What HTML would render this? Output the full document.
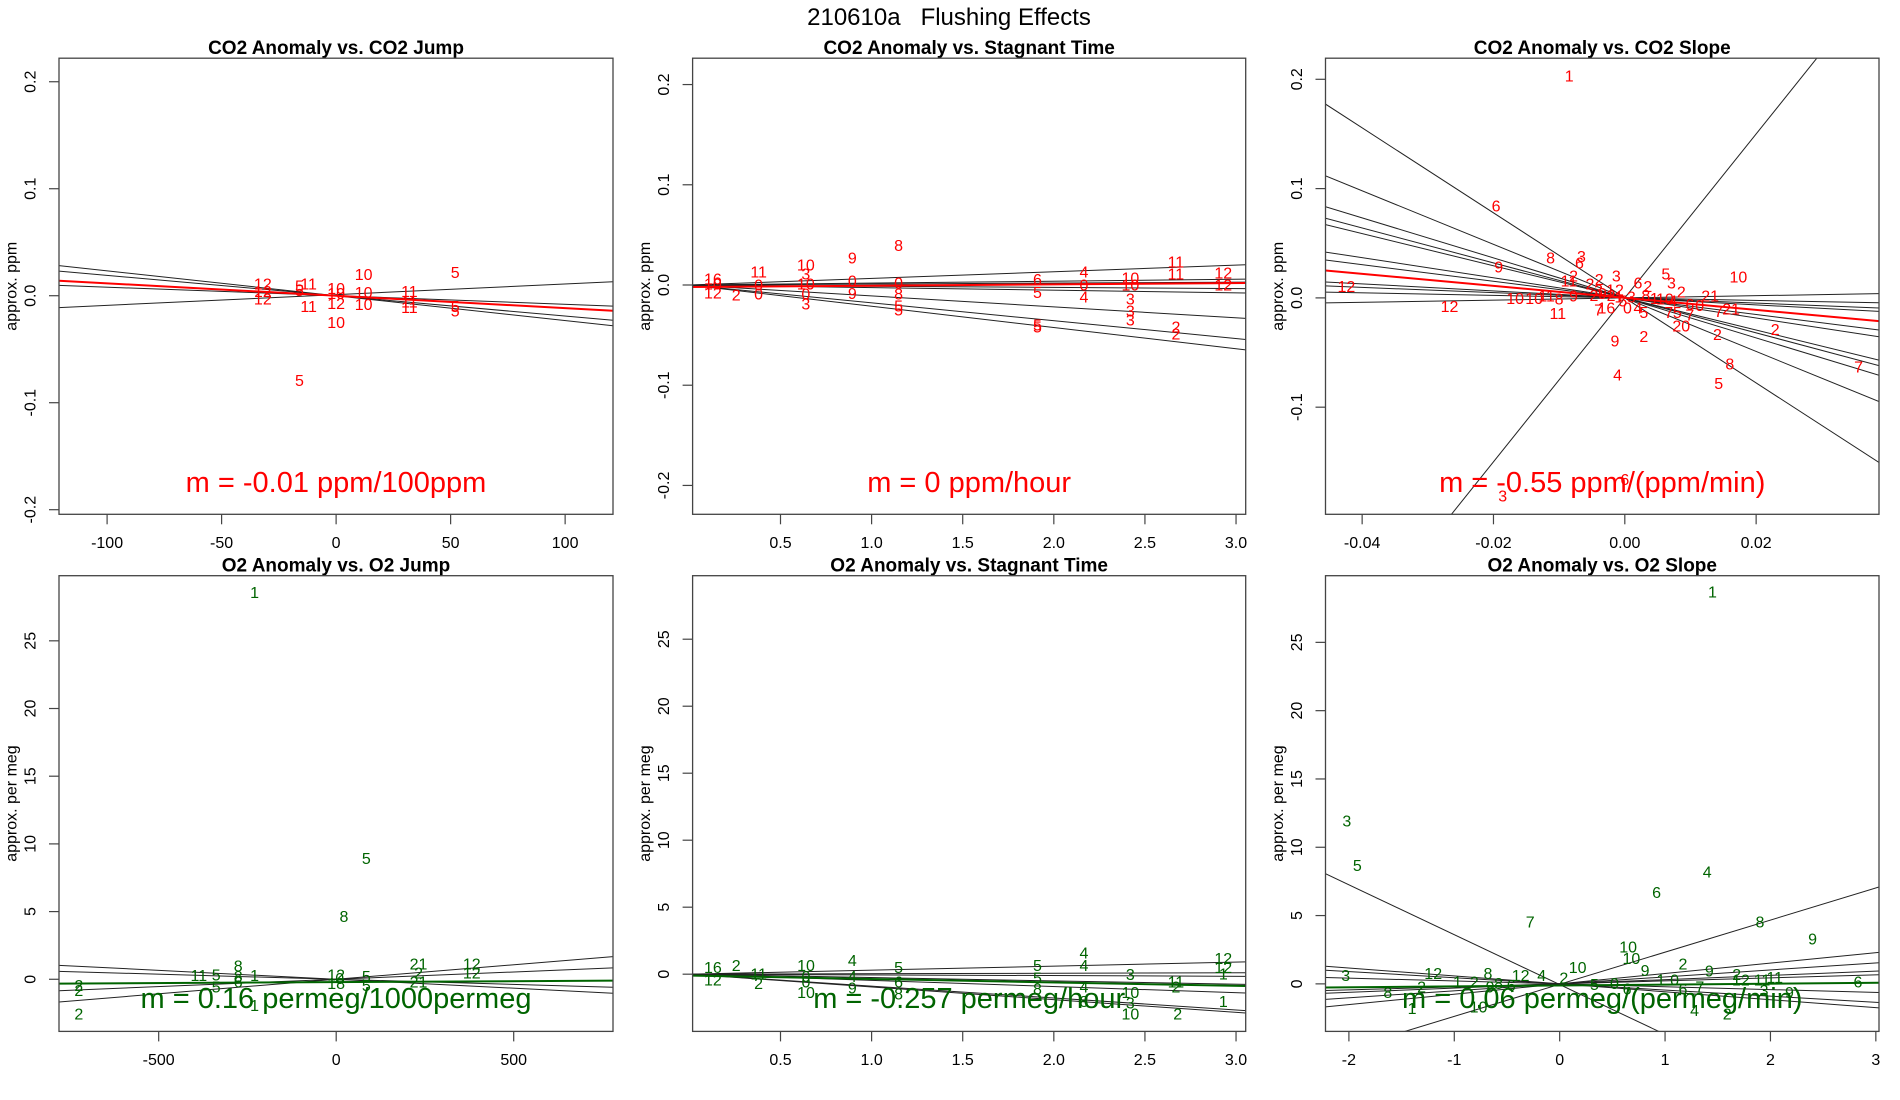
<!DOCTYPE html>
<html><head><meta charset="utf-8"><title>210610a Flushing Effects</title>
<style>
html,body{margin:0;padding:0;background:#fff;}
svg{display:block;font-family:"Liberation Sans",Arial,sans-serif;}
</style></head>
<body>
<svg id="chart" width="1900" height="1100" viewBox="0 0 1900 1100" xmlns="http://www.w3.org/2000/svg">
<rect x="0" y="0" width="1900" height="1100" fill="#fff"/>
<text x="949" y="25" font-size="24" text-anchor="middle" fill="#000" xml:space="preserve">210610a   Flushing Effects</text>
</svg>
<script>
// ---------- Panel 1: CO2 Anomaly vs. CO2 Jump ----------
const p1Labels = ["12","12","12","5","5","5","11","11","10","12","10","10","10","10","10","11","11","11","5","5","5"];
const p1X = [-32,-32,-32,-16,-16,-16,-12,-12,0,0,0,0,12,12,12,32,32,32,52,52,52];
const p1Y = [0.010,0.003,-0.004,0.008,0.004,-0.080,0.010,-0.011,0.006,-0.008,-0.026,0.001,0.019,0.002,-0.009,0.003,-0.007,-0.012,0.021,-0.011,-0.015];
const p1LineSlopes = [-0.000232,-0.00019,-0.00008,0.0001];
const p1LineIntercepts = [0,0,0,0.001];
const p1FitSlope = -0.000116;
const p1FitIntercept = 0;
const p1XTicks = [-100,-50,0,50,100];
const p1XTickLabels = ["-100","-50","0","50","100"];
const p1YTicks = [-0.2,-0.1,0,0.1,0.2];
const p1YTickLabels = ["-0.2","-0.1","0.0","0.1","0.2"];

// ---------- Panel 2: CO2 Anomaly vs. Stagnant Time ----------
const p2Labels = ["16","12","10","2","11","0","0","10","3","10","0","3","9","0","9","8","0","8","5","5","6","5","5","5","4","0","4","10","10","3","3","3","11","11","2","2","12","12"];
const p2X = [0.129,0.129,0.129,0.257,0.38,0.38,0.38,0.639,0.639,0.639,0.639,0.639,0.894,0.894,0.894,1.148,1.148,1.148,1.148,1.148,1.91,1.91,1.91,1.91,2.165,2.165,2.165,2.42,2.42,2.42,2.42,2.42,2.67,2.67,2.67,2.67,2.93,2.93];
const p2Y = [0.005,-0.009,0.0,-0.011,0.012,-0.001,-0.010,0.019,0.010,0.0,-0.010,-0.020,0.026,0.003,-0.0096,0.0385,0.001,-0.010,-0.022,-0.026,0.0046,-0.0086,-0.041,-0.043,0.012,-0.001,-0.013,0.006,-0.001,-0.015,-0.027,-0.036,0.022,0.010,-0.043,-0.050,0.011,-0.001];
const p2LineSlopes = [0.0066,0.0019,0.00094,-0.0012,-0.0026,-0.0109,-0.0178,-0.0212];
const p2LineIntercepts = [0,0,0,0,0,0,0,0];
const p2FitSlope = 0.0013;
const p2FitIntercept = -0.002;
const p2XTicks = [0.5,1.0,1.5,2.0,2.5,3.0];
const p2XTickLabels = ["0.5","1.0","1.5","2.0","2.5","3.0"];
const p2YTicks = [-0.2,-0.1,0,0.1,0.2];
const p2YTickLabels = ["-0.2","-0.1","0.0","0.1","0.2"];

// ---------- Panel 3: CO2 Anomaly vs. CO2 Slope ----------
const p3Labels = ["1","6","8","3","6","9","12","12","10","5","3","3","6","2","2","2","11","2","10","10","11","8","9","11","7","16","0","4","5","7","5","20","7","7","21","21","2","6","0","2","2","2","9","4","8","5","7","3","6","9","2","1","5","3","8","1","10","4","12","2","3"];
const p3X = [-0.00846,-0.0196,-0.0113,-0.0066,-0.0069,-0.0192,-0.0424,-0.0267,0.0173,0.00625,0.0071,-0.0013,0.002,0.0035,-0.0039,-0.0053,-0.0085,-0.0078,-0.0167,-0.0138,-0.0119,-0.010,-0.0078,-0.0102,-0.004,-0.0028,0.0004,0.002,0.0029,0.0067,0.008,0.0086,0.0099,0.0143,0.0162,0.013,0.0086,0.0099,0.0114,0.0229,0.0141,0.0029,-0.0015,-0.0011,0.016,0.0143,0.0356,-0.0186,0.0,-0.0034,-0.0021,-0.0009,-0.0003,0.001,0.0032,0.0045,0.0061,0.0073,-0.0015,-0.0047,-0.004];
const p3Y = [0.202,0.083,0.0356,0.037,0.031,0.0275,0.0095,-0.009,0.018,0.021,0.0127,0.019,0.0127,0.0095,0.016,0.012,0.0144,0.019,-0.0013,-0.0013,0.0007,-0.002,0.0007,-0.015,-0.0118,-0.010,-0.010,-0.010,-0.0144,-0.0144,-0.0144,-0.0265,-0.0167,-0.0134,-0.011,0.0007,0.0046,-0.0069,-0.0078,-0.0297,-0.0346,-0.0363,-0.0405,-0.0716,-0.0614,-0.0794,-0.064,-0.182,-0.167,0.0029,0.0013,-0.0003,-0.0036,-0.0003,0.0013,-0.0013,-0.002,-0.0036,0.0062,0.0013,0.0062];
const p3LineSlopes = [7.5,-3.89,-2.45,-1.83,-1.60,-1.47,-0.92,-0.76,-0.32,-0.24,-0.116,0.101];
const p3LineIntercepts = [0,0,0,0,0,0,0,0,0,0,0,0];
const p3FitSlope = -0.55;
const p3FitIntercept = 0;
const p3XTicks = [-0.04,-0.02,0,0.02];
const p3XTickLabels = ["-0.04","-0.02","0.00","0.02"];
const p3YTicks = [-0.1,0,0.1,0.2];
const p3YTickLabels = ["-0.1","0.0","0.1","0.2"];

// ---------- Panel 4: O2 Anomaly vs. O2 Jump ----------
const p4Labels = ["1","5","8","2","2","2","11","5","5","8","8","6","1","1","12","18","0","5","5","21","2","21","12","12"];
const p4X = [-230,85,22,-725,-725,-725,-387,-338,-338,-276,-276,-276,-230,-230,0,0,10,85,85,232,232,232,382,382];
const p4Y = [28.5,8.83,4.56,-2.64,-0.53,-0.92,0.2,0.26,-0.66,0.92,0.13,-0.26,0.2,-2.0,0.26,-0.4,0,0.13,-0.53,1.05,0.4,-0.26,1.05,0.4];
const p4LineSlopes = [-0.00132,-0.00075,0.00108,0.00215];
const p4LineIntercepts = [0,0,0,0];
const p4FitSlope = 0.00014;
const p4FitIntercept = -0.21;
const p4XTicks = [-500,0,500];
const p4XTickLabels = ["-500","0","500"];
const p4YTicks = [0,5,10,15,20,25];
const p4YTickLabels = ["0","5","10","15","20","25"];

// ---------- Panel 5: O2 Anomaly vs. Stagnant Time ----------
const p5Labels = ["16","12","2","2","11","10","0","10","0","4","4","9","5","6","8","5","5","8","4","4","4","8","3","10","3","10","11","2","2","12","12","1","1"];
const p5X = [0.129,0.129,0.257,0.38,0.38,0.64,0.64,0.64,0.64,0.894,0.894,0.894,1.148,1.148,1.148,1.91,1.91,1.91,2.165,2.165,2.165,2.165,2.42,2.42,2.42,2.42,2.67,2.67,2.68,2.93,2.93,2.93,2.93];
const p5Y = [0.43,-0.5,0.56,-0.77,-0.05,0.56,-0.24,-1.44,-0.64,0.96,-0.24,-1.12,0.43,-0.64,-1.57,0.56,-0.37,-1.17,1.49,0.56,-1.04,-2.1,-0.1,-1.44,-2.24,-3.04,-0.64,-1.04,-3.04,1.09,0.43,-0.05,-2.1];
const p5LineSlopes = [0.30,0.035,-0.052,-0.25,-0.46,-0.89,-0.95];
const p5LineIntercepts = [0,0,0,0,0,0,0];
const p5FitSlope = -0.257;
const p5FitIntercept = -0.1;
const p5XTicks = [0.5,1.0,1.5,2.0,2.5,3.0];
const p5XTickLabels = ["0.5","1.0","1.5","2.0","2.5","3.0"];
const p5YTicks = [0,5,10,15,20,25];
const p5YTickLabels = ["0","5","10","15","20","25"];

// ---------- Panel 6: O2 Anomaly vs. O2 Slope ----------
const p6Labels = ["1","3","5","4","6","7","8","9","10","10","10","2","3","12","8","8","2","1","10","12","4","2","9","9","2","12","11","11","6","4","2","9","7","0","5","6","1","0","1","2","8","6","9","6","3"];
const p6X = [1.45,-2.02,-1.92,1.40,0.92,-0.28,1.90,2.40,0.65,0.68,0.17,1.17,-2.03,-1.2,-0.68,-1.63,-1.31,-1.40,-0.77,-0.37,-0.17,0.04,0.81,1.42,1.68,1.72,2.04,1.92,2.83,1.28,1.59,2.18,1.33,0.52,0.33,0.64,0.96,1.09,-0.97,-0.81,-0.58,-0.46,-0.66,1.17,1.94];
const p6Y = [28.6,11.85,8.58,8.13,6.62,4.45,4.45,3.22,2.64,1.78,1.12,1.39,0.55,0.68,0.68,-0.7,-0.31,-1.88,-1.75,0.55,0.55,0.34,0.92,0.86,0.6,0.21,0.39,0.21,0.08,-2.01,-2.28,-0.7,-0.31,-0.05,-0.13,-0.44,0.21,0.21,0.08,0.08,-0.05,-0.18,-0.31,-0.44,-0.57];
const p6LineSlopes = [-3.65,2.35,0.76,0.51,0.31,0.22,-0.58,-0.45,-0.21];
const p6LineIntercepts = [-0.05,-0.03,0,0,0,0,0,0,0];
const p6FitSlope = 0.065;
const p6FitIntercept = -0.12;
const p6XTicks = [-2,-1,0,1,2,3];
const p6XTickLabels = ["-2","-1","0","1","2","3"];
const p6YTicks = [0,5,10,15,20,25];
const p6YTickLabels = ["0","5","10","15","20","25"];

const NS = "http://www.w3.org/2000/svg";
const svg = document.getElementById("chart");

function mk(tag, parent) {
  const e = document.createElementNS(NS, tag);
  parent.appendChild(e);
  return e;
}

function drawPanel(cfg) {
  const g = mk("g", svg);
  
  
  const L = cfg.box[0], T = cfg.box[1], R = cfg.box[2], B = cfg.box[3];
  const sx = v => L + (v - cfg.xlim[0]) / (cfg.xlim[1] - cfg.xlim[0]) * (R - L);
  const sy = v => B - (v - cfg.ylim[0]) / (cfg.ylim[1] - cfg.ylim[0]) * (B - T);

  const cp = mk("clipPath", g);
  cp.setAttribute("id", cfg.id + "-clip");
  const cr = mk("rect", cp);
  cr.setAttribute("x", L); cr.setAttribute("y", T);
  cr.setAttribute("width", R - L); cr.setAttribute("height", B - T);

  const title = mk("text", g);
  
  
  title.setAttribute("x", (L + R) / 2); title.setAttribute("y", T - 4);
  title.setAttribute("font-size", "19"); title.setAttribute("font-weight", "bold");
  title.setAttribute("text-anchor", "middle");
  title.textContent = cfg.title;

  const plot = mk("g", g);
  
  
  plot.setAttribute("clip-path", "url(#" + cfg.id + "-clip)");

  for (let i = 0; i < cfg.slopes.length; i++) {
    const ln = mk("line", plot);
    
    
    const x0 = cfg.xlim[0], x1 = cfg.xlim[1];
    ln.setAttribute("x1", sx(x0)); ln.setAttribute("y1", sy(cfg.intercepts[i] + cfg.slopes[i] * x0));
    ln.setAttribute("x2", sx(x1)); ln.setAttribute("y2", sy(cfg.intercepts[i] + cfg.slopes[i] * x1));
    ln.setAttribute("stroke", "#222"); ln.setAttribute("stroke-width", "1");
  }
  const fl = mk("line", plot);
  
  
  fl.setAttribute("x1", sx(cfg.xlim[0])); fl.setAttribute("y1", sy(cfg.fitI + cfg.fitS * cfg.xlim[0]));
  fl.setAttribute("x2", sx(cfg.xlim[1])); fl.setAttribute("y2", sy(cfg.fitI + cfg.fitS * cfg.xlim[1]));
  fl.setAttribute("stroke", cfg.color); fl.setAttribute("stroke-width", "2");

  for (let i = 0; i < cfg.labels.length; i++) {
    const t = mk("text", plot);
    
    
    t.setAttribute("x", sx(cfg.xs[i])); t.setAttribute("y", sy(cfg.ys[i]));
    t.setAttribute("font-size", "16"); t.setAttribute("fill", cfg.color);
    t.setAttribute("text-anchor", "middle"); t.setAttribute("dominant-baseline", "central");
    t.textContent = cfg.labels[i];
  }

  const ann = mk("text", g);
  
  
  ann.setAttribute("x", (L + R) / 2); ann.setAttribute("y", cfg.annY);
  ann.setAttribute("font-size", "29"); ann.setAttribute("fill", cfg.color);
  ann.setAttribute("text-anchor", "middle");
  ann.textContent = cfg.ann;

  const box = mk("rect", g);
  
  
  box.setAttribute("x", L); box.setAttribute("y", T);
  box.setAttribute("width", R - L); box.setAttribute("height", B - T);
  box.setAttribute("fill", "none"); box.setAttribute("stroke", "#444"); box.setAttribute("stroke-width", "1.3");

  const xa = mk("g", g);
  
  
  for (let i = 0; i < cfg.xticks.length; i++) {
    const px = sx(cfg.xticks[i]);
    const tk = mk("line", xa);
    
    
    tk.setAttribute("x1", px); tk.setAttribute("x2", px);
    tk.setAttribute("y1", B); tk.setAttribute("y2", B + 10);
    tk.setAttribute("stroke", "#444"); tk.setAttribute("stroke-width", "1.2");
    const tl = mk("text", xa);
    
    
    tl.setAttribute("x", px); tl.setAttribute("y", B + 29);
    tl.setAttribute("font-size", "16"); tl.setAttribute("text-anchor", "middle");
    tl.setAttribute("dominant-baseline", "central");
    tl.textContent = cfg.xtickLabels[i];
  }
  const ya = mk("g", g);
  
  
  for (let i = 0; i < cfg.yticks.length; i++) {
    const py = sy(cfg.yticks[i]);
    const tk = mk("line", ya);
    
    
    tk.setAttribute("x1", L - 10); tk.setAttribute("x2", L);
    tk.setAttribute("y1", py); tk.setAttribute("y2", py);
    tk.setAttribute("stroke", "#444"); tk.setAttribute("stroke-width", "1.2");
    const tl = mk("text", ya);
    
    
    tl.setAttribute("transform", "translate(" + (L - 28) + "," + py + ") rotate(-90)");
    tl.setAttribute("font-size", "16"); tl.setAttribute("text-anchor", "middle");
    tl.setAttribute("dominant-baseline", "central");
    tl.textContent = cfg.ytickLabels[i];
  }
  const yt = mk("text", g);
  
  
  yt.setAttribute("transform", "translate(" + (L - 47) + "," + ((T + B) / 2) + ") rotate(-90)");
  yt.setAttribute("font-size", "16"); yt.setAttribute("text-anchor", "middle");
  yt.setAttribute("dominant-baseline", "central");
  yt.textContent = cfg.ytitle;
}

const C1 = [59, 613], C2 = [692.6, 1245.7], C3 = [1325.5, 1879];
const R1 = [58.2, 514.3], R2 = [575.7, 1031.4];

drawPanel({id:"p1", name:"panel-co2-vs-co2-jump", title:"CO2 Anomaly vs. CO2 Jump",
  box:[C1[0],R1[0],C1[1],R1[1]], xlim:[-121.0,120.9], ylim:[-0.2043,0.222],
  labels:p1Labels, xs:p1X, ys:p1Y, slopes:p1LineSlopes, intercepts:p1LineIntercepts,
  fitS:p1FitSlope, fitI:p1FitIntercept, color:"#ff0000", ann:"m = -0.01 ppm/100ppm", annY:492,
  xticks:p1XTicks, xtickLabels:p1XTickLabels, yticks:p1YTicks, ytickLabels:p1YTickLabels, ytitle:"approx. ppm"});

drawPanel({id:"p2", name:"panel-co2-vs-stagnant-time", title:"CO2 Anomaly vs. Stagnant Time",
  box:[C2[0],R1[0],C2[1],R1[1]], xlim:[0.0176,3.053], ylim:[-0.2288,0.2263],
  labels:p2Labels, xs:p2X, ys:p2Y, slopes:p2LineSlopes, intercepts:p2LineIntercepts,
  fitS:p2FitSlope, fitI:p2FitIntercept, color:"#ff0000", ann:"m = 0 ppm/hour", annY:492,
  xticks:p2XTicks, xtickLabels:p2XTickLabels, yticks:p2YTicks, ytickLabels:p2YTickLabels, ytitle:"approx. ppm"});

drawPanel({id:"p3", name:"panel-co2-vs-co2-slope", title:"CO2 Anomaly vs. CO2 Slope",
  box:[C3[0],R1[0],C3[1],R1[1]], xlim:[-0.04558,0.03871], ylim:[-0.198,0.2193],
  labels:p3Labels, xs:p3X, ys:p3Y, slopes:p3LineSlopes, intercepts:p3LineIntercepts,
  fitS:p3FitSlope, fitI:p3FitIntercept, color:"#ff0000", ann:"m = -0.55 ppm/(ppm/min)", annY:492,
  xticks:p3XTicks, xtickLabels:p3XTickLabels, yticks:p3YTicks, ytickLabels:p3YTickLabels, ytitle:"approx. ppm"});

drawPanel({id:"p4", name:"panel-o2-vs-o2-jump", title:"O2 Anomaly vs. O2 Jump",
  box:[C1[0],R2[0],C1[1],R2[1]], xlim:[-780.8,779.7], ylim:[-3.85,29.81],
  labels:p4Labels, xs:p4X, ys:p4Y, slopes:p4LineSlopes, intercepts:p4LineIntercepts,
  fitS:p4FitSlope, fitI:p4FitIntercept, color:"#006400", ann:"m = 0.16 permeg/1000permeg", annY:1008,
  xticks:p4XTicks, xtickLabels:p4XTickLabels, yticks:p4YTicks, ytickLabels:p4YTickLabels, ytitle:"approx. per meg"});

drawPanel({id:"p5", name:"panel-o2-vs-stagnant-time", title:"O2 Anomaly vs. Stagnant Time",
  box:[C2[0],R2[0],C2[1],R2[1]], xlim:[0.0176,3.053], ylim:[-4.27,29.74],
  labels:p5Labels, xs:p5X, ys:p5Y, slopes:p5LineSlopes, intercepts:p5LineIntercepts,
  fitS:p5FitSlope, fitI:p5FitIntercept, color:"#006400", ann:"m = -0.257 permeg/hour", annY:1008,
  xticks:p5XTicks, xtickLabels:p5XTickLabels, yticks:p5YTicks, ytickLabels:p5YTickLabels, ytitle:"approx. per meg"});

drawPanel({id:"p6", name:"panel-o2-vs-o2-slope", title:"O2 Anomaly vs. O2 Slope",
  box:[C3[0],R2[0],C3[1],R2[1]], xlim:[-2.222,3.03], ylim:[-3.48,29.88],
  labels:p6Labels, xs:p6X, ys:p6Y, slopes:p6LineSlopes, intercepts:p6LineIntercepts,
  fitS:p6FitSlope, fitI:p6FitIntercept, color:"#006400", ann:"m = 0.06 permeg/(permeg/min)", annY:1008,
  xticks:p6XTicks, xtickLabels:p6XTickLabels, yticks:p6YTicks, ytickLabels:p6YTickLabels, ytitle:"approx. per meg"});
</script>
</body></html>
